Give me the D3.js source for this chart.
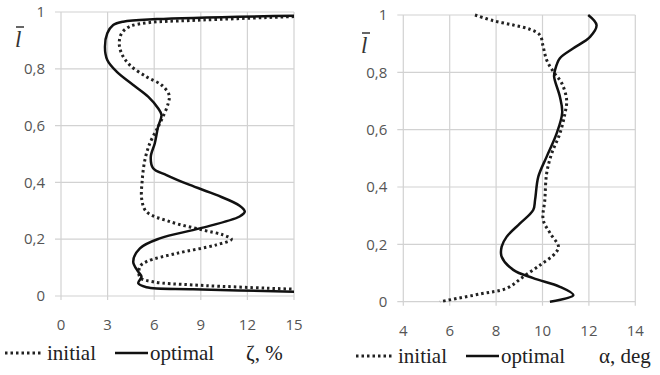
<!DOCTYPE html>
<html>
<head>
<meta charset="utf-8">
<script src="https://cdn.jsdelivr.net/npm/d3@7"></script>
<style>
  body { margin: 0; background: #fff; }
  svg { display: block; }
  .serif { font-family: "Liberation Serif", "DejaVu Serif", "Noto Serif", serif; }
  .sans { font-family: "Open Sans", "Liberation Sans", sans-serif; }
</style>
</head>
<body>
<svg id="chart" width="660" height="375"></svg>
<script>
// relative length l (y) for both panels
var yTicks = [0, 0.2, 0.4, 0.6, 0.8, 1];

// left panel: zeta, %
var zetaTicks = [0, 3, 6, 9, 12, 15];
var zetaInitial = [
  [15, 0.984], [8.3, 0.97], [5.72, 0.963], [4.43, 0.949], [3.9, 0.925], [3.75, 0.89],
  [3.9, 0.854], [4.43, 0.813], [5.5, 0.772], [6.47, 0.743], [6.96, 0.708], [6.9, 0.678],
  [6.47, 0.62], [6.15, 0.585], [5.72, 0.538], [5.4, 0.479], [5.23, 0.408], [5.2, 0.34],
  [5.5, 0.297], [7.0, 0.262], [9.15, 0.232], [10.43, 0.215], [10.97, 0.2], [10.0, 0.18],
  [7.44, 0.15], [5.5, 0.121], [5.08, 0.103], [5.08, 0.066], [5.93, 0.05], [8.5, 0.039],
  [15, 0.024]
];
var zetaOptimal = [
  [15, 0.987], [6.15, 0.975], [4.0, 0.966], [3.36, 0.954], [2.98, 0.925], [2.83, 0.878],
  [2.98, 0.831], [3.58, 0.79], [4.65, 0.743], [5.61, 0.702], [6.25, 0.661], [6.47, 0.637],
  [6.25, 0.596], [6.04, 0.538], [5.78, 0.49], [5.93, 0.45], [6.79, 0.426], [8.29, 0.391],
  [10.0, 0.356], [11.5, 0.318], [11.83, 0.297], [11.5, 0.28], [8.93, 0.238], [6.36, 0.203],
  [5.08, 0.168], [4.65, 0.121], [4.97, 0.086], [5.18, 0.068], [4.97, 0.045], [5.5, 0.031],
  [8.5, 0.024], [15, 0.015]
];

// right panel: alpha, deg
var alphaTicks = [4, 6, 8, 10, 12, 14];
var alphaInitial = [
  [7.09, 1.0], [7.88, 0.98], [8.74, 0.965], [9.46, 0.95], [9.89, 0.93], [10.03, 0.889],
  [10.18, 0.843], [10.47, 0.802], [10.83, 0.762], [11.04, 0.704], [10.97, 0.657],
  [10.75, 0.587], [10.4, 0.518], [10.18, 0.448], [10.1, 0.355], [10.03, 0.285],
  [10.33, 0.239], [10.69, 0.192], [10.55, 0.169], [9.9, 0.128], [9.17, 0.087],
  [8.46, 0.047], [7.31, 0.027], [5.58, 0.0]
];
var alphaOptimal = [
  [11.97, 1.0], [12.33, 0.965], [12.05, 0.924], [11.33, 0.884], [10.75, 0.849],
  [10.54, 0.808], [10.5, 0.785], [10.75, 0.715], [10.85, 0.66], [10.61, 0.587],
  [10.18, 0.506], [9.82, 0.436], [9.68, 0.355], [9.6, 0.32], [9.03, 0.273], [8.46, 0.227],
  [8.24, 0.192], [8.24, 0.157], [8.74, 0.111], [9.6, 0.082], [10.75, 0.052],
  [11.33, 0.023], [10.32, 0.0]
];

var svg = d3.select("#chart");

function fmt(v) { return String(v).replace(".", ","); }

function panel(opt) {
  var x = d3.scaleLinear().domain(opt.xDomain).range(opt.xRange);
  var y = d3.scaleLinear().domain([0, 1]).range(opt.yRange);
  var g = svg.append("g");

  // grid
  g.selectAll(".hgrid").data(yTicks).enter().append("line")
      .attr("x1", opt.xRange[0] - 6).attr("x2", opt.xRange[1])
      .attr("y1", function(d) { return y(d); }).attr("y2", function(d) { return y(d); })
      .style("stroke", "#d2d2d2").style("stroke-width", 1.2);
  g.selectAll(".vgrid").data(opt.xTicks).enter().append("line")
      .attr("x1", function(d) { return x(d); }).attr("x2", function(d) { return x(d); })
      .attr("y1", opt.yRange[1]).attr("y2", opt.yRange[0] + 4)
      .style("stroke", "#d2d2d2").style("stroke-width", 1.2);

  // tick labels
  g.selectAll(".ylab").data(yTicks).enter().append("text")
      .attr("class", "sans")
      .attr("x", opt.xRange[0] - 16)
      .attr("y", function(d) { return y(d); })
      .attr("dy", "0.35em")
      .attr("text-anchor", "end")
      .style("font-size", "15px")
      .style("fill", "#555")
      .text(function(d) { return fmt(d); });
  g.selectAll(".xlab").data(opt.xTicks).enter().append("text")
      .attr("class", "sans")
      .attr("x", function(d) { return x(d); })
      .attr("y", opt.yRange[0] + 34)
      .attr("text-anchor", "middle")
      .style("font-size", "15px")
      .style("fill", "#555")
      .text(function(d) { return d; });

  // l-bar label
  g.append("text")
      .attr("class", "serif")
      .attr("x", opt.lx).attr("y", opt.ly)
      .style("font-style", "italic")
      .style("font-size", "23px")
      .style("fill", "#333")
      .text("l");
  g.append("line")
      .attr("x1", opt.lx + 1).attr("x2", opt.lx + 9)
      .attr("y1", opt.ly - 20).attr("y2", opt.ly - 20)
      .style("stroke", "#333").style("stroke-width", 1.5);

  var line = d3.line()
      .x(function(d) { return x(d[0]); })
      .y(function(d) { return y(d[1]); })
      .curve(d3.curveCatmullRom.alpha(0.5));

  g.append("path")
      .attr("d", line(opt.initial))
      .style("fill", "none").style("stroke", "#222")
      .style("stroke-width", 3).style("stroke-dasharray", "2.5,3");
  g.append("path")
      .attr("d", line(opt.optimal))
      .style("fill", "none").style("stroke", "#111")
      .style("stroke-width", 2.5);

  // legend
  var ly = opt.legendY;
  var lg = g.append("g");
  lg.append("line")
      .attr("x1", opt.legendX).attr("x2", opt.legendX + 38)
      .attr("y1", ly - 7).attr("y2", ly - 7)
      .style("stroke", "#222").style("stroke-width", 3).style("stroke-dasharray", "2.5,3");
  lg.append("text")
      .attr("class", "serif")
      .attr("x", opt.legendX + 42).attr("y", ly)
      .style("font-size", "21px")
      .style("fill", "#222")
      .text("initial");
  lg.append("line")
      .attr("x1", opt.legendX + 110).attr("x2", opt.legendX + 143)
      .attr("y1", ly - 7).attr("y2", ly - 7)
      .style("stroke", "#111").style("stroke-width", 2.5);
  lg.append("text")
      .attr("class", "serif")
      .attr("x", opt.legendX + 145).attr("y", ly)
      .style("font-size", "21px")
      .style("fill", "#222")
      .text("optimal");
  lg.append("text")
      .attr("class", "serif")
      .attr("x", opt.unitX).attr("y", ly)
      .style("font-size", "21px")
      .style("fill", "#222")
      .text(opt.unit);
}

panel({
  xDomain: [0, 15], xRange: [61, 294], yRange: [296, 12], xTicks: zetaTicks,
  initial: zetaInitial, optimal: zetaOptimal,
  lx: 15, ly: 47, legendX: 5, legendY: 360, unitX: 246, unit: "ζ, %"
});

panel({
  xDomain: [4, 14], xRange: [403.3, 635.3], yRange: [301.7, 15], xTicks: alphaTicks,
  initial: alphaInitial, optimal: alphaOptimal,
  lx: 361, ly: 53, legendX: 356, legendY: 363, unitX: 599, unit: "α, deg"
});
</script>
</body>
</html>
